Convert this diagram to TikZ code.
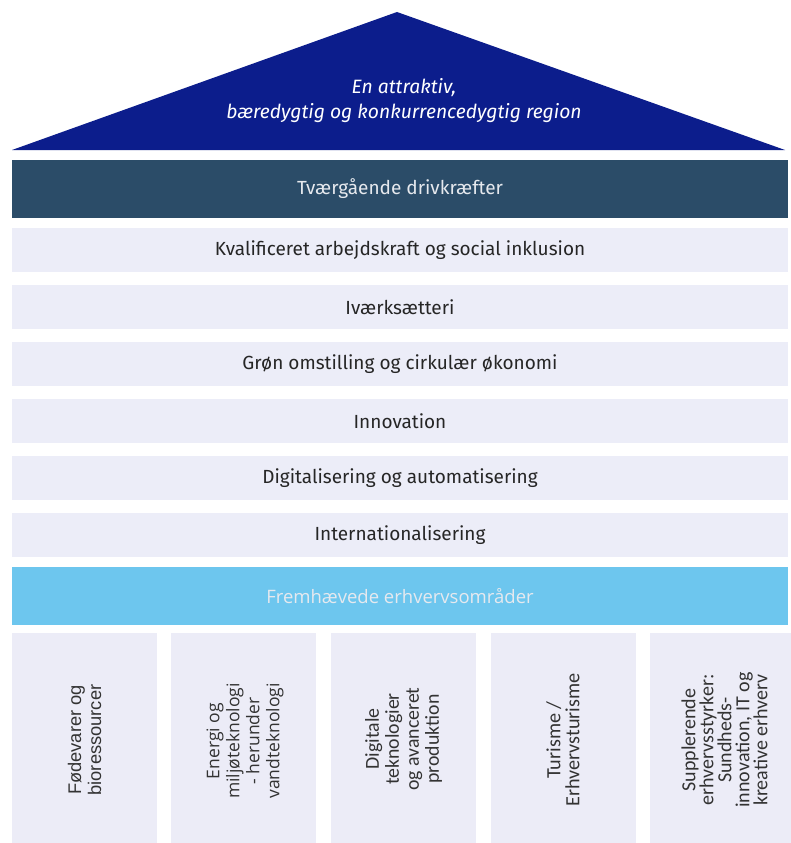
\documentclass[tikz,border=0pt]{standalone}
\usepackage{fontspec}
\setmainfont{Open Sans}
\newfontfamily\rowfont{Fira Sans}
\newfontfamily\arialfont{Liberation Sans}
\newfontfamily\calfont{Carlito}
\definecolor{roofblue}{HTML}{0C1D8C}
\definecolor{darkbar}{HTML}{2B4C68}
\definecolor{rowfill}{HTML}{ECEDF8}
\definecolor{lightbar}{HTML}{6DC6EE}
\definecolor{colfill}{HTML}{ECECF7}
\definecolor{bartext}{HTML}{E6E9EE}
\tikzset{
  rowbox/.style={fill=rowfill, draw=none, minimum width=776pt, minimum height=44pt, inner sep=0pt,
    font=\rowfont\fontsize{19}{22}\selectfont, text=black!85},
  colbox/.style={fill=colfill, draw=none, minimum width=145pt, minimum height=210pt, inner sep=0pt},
  coltext/.style={rotate=90, align=center, text=black!80, inner sep=0pt}
}
\begin{document}
\begin{tikzpicture}[x=1pt,y=-1pt]
\useasboundingbox[fill=white] (0,0) rectangle (790,843);
% roof
\fill[roofblue] (12,150) -- (397,12) -- (785,150) -- cycle;
\node[text=white, align=center, font=\rowfont\itshape\fontsize{19.3}{25}\selectfont] (roof) at (404,101)
  {En attraktiv,\\bæredygtig og konkurrencedygtig region};
% dark bar
\node[fill=darkbar, minimum width=776pt, minimum height=58pt, inner sep=0pt, text=bartext,
  font=\rowfont\fontsize{19}{22}\selectfont] (drive) at (400,189) {Tværgående drivkræfter};
% rows
\node[rowbox] (r1) at (400,250) {Kvalificeret arbejdskraft og social inklusion};
\node[rowbox] (r2) at (400,307) {Iværksætteri};
\node[rowbox] (r3) at (400,364) {Grøn omstilling og cirkulær økonomi};
\node[rowbox] (r4) at (400,421) {Innovation};
\node[rowbox] (r5) at (400,478) {Digitalisering og automatisering};
\node[rowbox] (r6) at (400,535) {Internationalisering};
% light bar
\node[fill=lightbar, minimum width=776pt, minimum height=58pt, inner sep=0pt, text=bartext,
  font=\fontsize{18.5}{21}\selectfont] (areas) at (400,596) {Fremhævede erhvervsområder};
% columns
\node[colbox] (c1) at (84.5,738) {};
\node[colbox] (c2) at (243.5,738) {};
\node[colbox] (c3) at (403.5,738) {};
\node[colbox] (c4) at (563,738) {};
\node[colbox] (c5) at (722.5,738) {};
\node[coltext, font=\arialfont\fontsize{18.3}{20}\selectfont] (t1) at ([yshift=-2pt]c1) {Fødevarer og\\bioressourcer};
\node[coltext, font=\fontsize{17.5}{20}\selectfont] (t2) at ([xshift=1.5pt,yshift=-3pt]c2) {Energi og\\miljøteknologi\\- herunder\\vandteknologi};
\node[coltext, font=\calfont\fontsize{19.8}{20}\selectfont] (t3) at ([yshift=-1pt]c3) {Digitale\\teknologier\\og avanceret\\produktion};
\node[coltext, font=\calfont\fontsize{20.2}{19}\selectfont] (t4) at ([yshift=-2pt]c4) {Turisme /\\Erhvervsturisme};
\node[coltext, font=\calfont\fontsize{20}{18}\selectfont] (t5) at ([xshift=2pt,yshift=-2pt]c5) {Supplerende\\erhvervsstyrker:\\Sundheds-\\innovation, IT og\\kreative erhverv};
\end{tikzpicture}
\end{document}
